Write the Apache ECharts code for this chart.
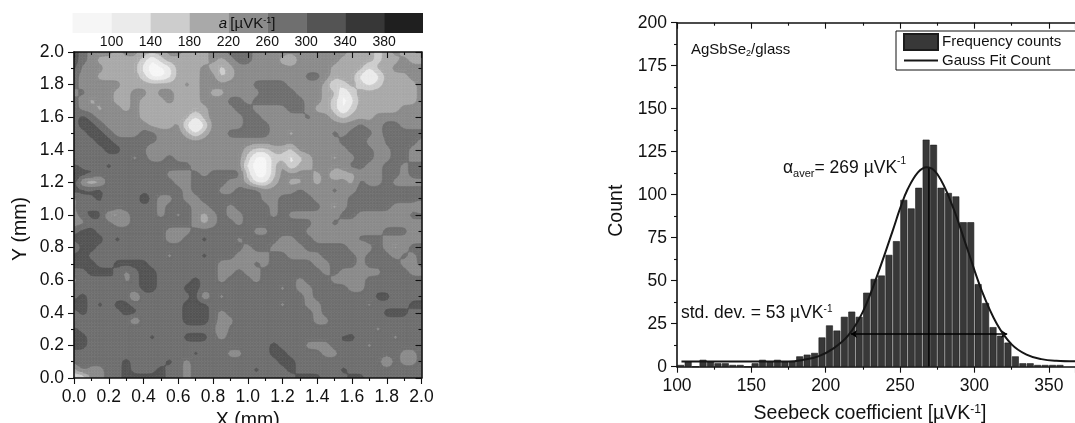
<!DOCTYPE html>
<html>
<head>
<meta charset="utf-8">
<style>html,body{margin:0;padding:0;background:#fff}#c{width:1075px;height:423px}</style>
<script src="https://cdn.jsdelivr.net/npm/echarts@6/dist/echarts.min.js"></script>
</head>
<body>
<div id="c"></div>
<script>
// Seebeck map: one digit per node, top row first; digit d is the colour band (80 + 40*d uV/K)
var seebeckRows = [
"654443443334433344555 44444444444333234333",
"654333332023333343455 44432444443333233433",
"644433331001333432344 44444444433331334444",
"544333332001333442344 44444455433310133344",
"544444333333343444444 55554444312321233334",
"454443344344333433444 45555444330233333334",
"543443343334333444554 55555544320133333334",
"544344343333333344455 44445543320233333444",
"565444443333331344445 54444454432333444444",
"566544444333410144445 55444444444454455444",
"556654445544431344555 55443444454555455555",
"555665555544444444444 44444444445554355554",
"555566555344444444443 22332444444555445544",
"455555545445444444442 00221234434455445544",
"655565555555554444441 00241334544554455455",
"766555555554445455552 00244443423344455455",
"632355555555445555443 11343343444354454444",
"666655555555545554455 54444544454455555555",
"455646547544544555555 54455554444555555555",
"465565555545554455455 55455555434555554443",
"456633455545454345445 55454444445544444455",
"445554455555554345545 55555554454444444444",
"566555555554445555555 44555544444444455544",
"666656555554455655545 55544554444455544444",
"466555555555555555554 55444455555434543455",
"665555555554555655544 44554444555545554545",
"666556666555555554444 54555554455545555445",
"556665456655555554454 45555555454444455544",
"455556456655556554555 45555455544445555555",
"555555556655566555555 55545445555445555555",
"565555535555556354555 55555545555555665555",
"665656655555566655555 55545544555554555566",
"565555665555566654555 55555554555555566655",
"455555535555566654455 55555554455555555555",
"655555565555555553555 55555555554555455555",
"665555555655566654555 55555555556655554555",
"665555555555555555555 55655544455554555555",
"555555555555556555445 55665555445555555445",
"555555655556545555555 55566555555555535445",
"354455655565545555555 65556555556555555555",
"114455666665545555555 55555666555665555555"
];
var mapXMax = 2.0, mapYMax = 2.0, mapTicks = 0.2;

// colour bar
var bandLow  = [60,100,140,180,220,260,300,340,380];
var bandHigh = [100,140,180,220,260,300,340,380,420];
var bandColors = ['#f6f6f6','#ebebeb','#cdcdcd','#a9a9a9','#8b8b8b','#6f6f6f','#545454','#373737','#1f1f1f'];
var bandTicks = [100,140,180,220,260,300,340,380];

// histogram
var binCenters = [102.5,107.5,112.5,117.5,122.5,127.5,132.5,137.5,142.5,147.5,152.5,157.5,162.5,167.5,172.5,177.5,182.5,187.5,192.5,197.5,202.5,207.5,212.5,217.5,222.5,227.5,232.5,237.5,242.5,247.5,252.5,257.5,262.5,267.5,272.5,277.5,282.5,287.5,292.5,297.5,302.5,307.5,312.5,317.5,322.5,327.5,332.5,337.5,342.5,347.5,352.5,357.5];
var binCounts  = [1,3,0,4,3,2,2,1,1,0,2,4,3,4,3,3,6,7,8,17,24,21,29,32,29,43,51,53,65,73,97,92,104,132,129,104,101,99,84,84,48,37,23,18,14,6,2,2,1,1,1,1];

// Gauss fit
var fitX = [103,130,160,175,185,195,205,215,225,235,245,250,255,262,268,275,285,295,305,315,325,335,345,355,368];
var fitY = [3,3,3,3,4,6,10.5,18,32,54,79,92,103,113,116,112,94,69,44,25,13,7,4.4,3.4,3.1];

// annotation lines
var meanX = 269, meanTop = 116;
var stdLeft = 217, stdRight = 322, stdLevel = 19;

var FONT = '"Liberation Sans", Arial, sans-serif';
var BLACK = '#111';

function valueOfDigit(ch){ return 80 + 40 * (+ch); }
var nodes = seebeckRows.map(function(r){ return r.replace(/ /g,'').split('').map(valueOfDigit); });

// Contour rounding of the iso-lines: a finer mesh over the read nodes, lightly softened.
var REFINE = 3, SOFTEN = 2;
function refineLine(a){
  var out=[],n=a.length;
  for(var i=0;i<n-1;i++) for(var s=0;s<REFINE;s++) out.push(a[i]+(a[i+1]-a[i])*s/REFINE);
  out.push(a[n-1]);
  return out;
}
function soften(a){
  return a.map(function(v,i){ return (a[Math.max(i-1,0)]+2*v+a[Math.min(i+1,a.length-1)])/4; });
}
function transpose(m){ return m[0].map(function(_,c){ return m.map(function(r){ return r[c]; }); }); }
var surface = transpose(transpose(nodes.map(refineLine)).map(refineLine));
for (var pass=0; pass<SOFTEN; pass++) surface = transpose(transpose(surface.map(soften)).map(soften));
var cells = [];
(function(){
  var nr=surface.length-1,nc=surface[0].length-1;
  for (var r=0;r<nr;r++) for (var c=0;c<nc;c++) {
    cells.push([c/nc*mapXMax, mapYMax-r/nr*mapYMax, (c+1)/nc*mapXMax, mapYMax-(r+1)/nr*mapYMax,
      surface[r][c], surface[r][c+1], surface[r+1][c+1], surface[r+1][c]]);
  }
})();
function clipAbove(pts, t){
  var out = [];
  for (var i = 0; i < pts.length; i++) {
    var a = pts[i], b = pts[(i+1)%pts.length];
    if (a[2] >= t) out.push([a[0],a[1]]);
    if ((a[2] >= t) !== (b[2] >= t)) {
      var f = (t - a[2]) / (b[2] - a[2]);
      out.push([a[0]+(b[0]-a[0])*f, a[1]+(b[1]-a[1])*f]);
    }
  }
  return out;
}
function renderCell(params, api){
  var x0=api.value(0), y0=api.value(1), x1=api.value(2), y1=api.value(3);
  var v=[api.value(4),api.value(5),api.value(6),api.value(7)];
  var p0=api.coord([x0,y0]), p1=api.coord([x1,y1]);
  var quad=[[p0[0],p0[1],v[0]],[p1[0],p0[1],v[1]],[p1[0],p1[1],v[2]],[p0[0],p1[1],v[3]]];
  var lo=Math.min.apply(null,v), hi=Math.max.apply(null,v);
  var children=[];
  var first=true;
  for (var k=0;k<bandLow.length;k++){
    var top=k===bandLow.length-1?Infinity:bandHigh[k], bot=k===0?-Infinity:bandLow[k];
    if (hi<bot || lo>=top) continue;
    var pts = first ? quad.map(function(q){return [q[0],q[1]];}) : clipAbove(quad,bot);
    first=false;
    if (pts.length<3) continue;
    children.push({type:'polygon',shape:{points:pts},style:{fill:bandColors[k],stroke:bandColors[k],lineWidth:0.6},silent:true});
  }
  return {type:'group',children:children};
}
function renderBand(params, api){
  var a=api.coord([api.value(0),1]), b=api.coord([api.value(1),0]);
  return {type:'rect',shape:{x:a[0],y:a[1],width:b[0]-a[0],height:b[1]-a[1]},style:{fill:bandColors[params.dataIndex]}};
}
function frameAxis(base){
  var o = {type:'value',z:10,axisLine:{show:true,onZero:false,lineStyle:{color:BLACK,width:1.6}},
    axisTick:{show:true,length:6,lineStyle:{color:BLACK,width:1.1}},
    minorTick:{show:true,splitNumber:2,length:3,lineStyle:{color:BLACK,width:1.1}},
    splitLine:{show:false},minorSplitLine:{show:false},
    axisLabel:{color:BLACK,fontSize:17.5,fontFamily:FONT,margin:10,formatter:base.fmt||null},
    nameTextStyle:{color:BLACK,fontSize:19.5,fontFamily:FONT}};
  delete base.fmt;
  for (var k in base) o[k]=base[k];
  return o;
}
function mirror(extra){
  var o=frameAxis(extra);
  o.axisLabel={show:false};
  o.axisTick.inside=true;
  return o;
}
var f1=function(v){return v.toFixed(1);};
var supRich={a:{fontSize:19.5,fontFamily:FONT,color:BLACK},s:{fontSize:12,fontFamily:FONT,color:BLACK,verticalAlign:'top',lineHeight:20}};

var option={
  animation:false,
  backgroundColor:'#fff',
  textStyle:{fontFamily:FONT},
  grid:[
    {left:74,top:52,width:347.5,height:326,outerBoundsMode:'none'},
    {left:677,top:22.7,width:398,height:344,outerBoundsMode:'none'},
    {left:72.6,top:13,width:350.4,height:20,outerBoundsMode:'none'}
  ],
  xAxis:[
    frameAxis({gridIndex:0,position:'bottom',min:0,max:mapXMax,interval:mapTicks,fmt:f1,name:'X (mm)',nameLocation:'middle',nameGap:30}),
    mirror({gridIndex:0,position:'top',min:0,max:mapXMax,interval:mapTicks}),
    frameAxis({gridIndex:1,position:'bottom',min:100,max:367.6,interval:50,name:'{a|Seebeck coefficient [µVK}{s|-1}{a|]}',nameLocation:'middle',nameGap:37,
      nameTextStyle:{color:BLACK,fontSize:19.5,fontFamily:FONT,padding:[0,12,0,0],rich:supRich}}),
    mirror({gridIndex:1,position:'top',min:100,max:367.6,interval:50}),
    {type:'value',gridIndex:2,min:60,max:420,axisLine:{show:false},axisTick:{show:false},splitLine:{show:false},
      axisLabel:{customValues:bandTicks,color:BLACK,fontSize:14,fontFamily:FONT,margin:2,hideOverlap:false}}
  ],
  yAxis:[
    frameAxis({gridIndex:0,position:'left',min:0,max:mapYMax,interval:mapTicks,fmt:f1,name:'Y (mm)',nameLocation:'middle',nameGap:43,
      nameTextStyle:{color:BLACK,fontSize:19.5,fontFamily:FONT,padding:[0,28,0,0]}}),
    mirror({gridIndex:0,position:'right',min:0,max:mapYMax,interval:mapTicks}),
    frameAxis({gridIndex:1,position:'left',min:0,max:200,interval:25,name:'Count',nameLocation:'middle',nameGap:50,
      nameTextStyle:{color:BLACK,fontSize:19.5,fontFamily:FONT,padding:[0,32,0,0]}}),
    {type:'value',gridIndex:2,min:0,max:1,show:false}
  ],
  legend:{
    data:[{name:'Frequency counts',icon:'rect'},{name:'Gauss Fit Count',itemStyle:{opacity:0}}],
    orient:'vertical',left:896,top:31,itemWidth:34,itemHeight:16,itemGap:2,
    padding:[2,22,2,7],backgroundColor:'#fff',borderColor:BLACK,borderWidth:1,borderRadius:0,
    textStyle:{color:BLACK,fontSize:15,fontFamily:FONT,padding:[0,0,0,-1]},z:20,selectedMode:false
  },
  series:[
    {type:'custom',name:'Seebeck map',xAxisIndex:0,yAxisIndex:0,coordinateSystem:'cartesian2d',renderItem:renderCell,data:cells,
      dimensions:['x0','y0','x1','y1','a','b','c','d'],encode:{x:[0,2],y:[1,3]},progressive:0,silent:true,clip:true,z:1},
    {type:'custom',name:'Colour scale',xAxisIndex:4,yAxisIndex:3,renderItem:renderBand,
      data:bandLow.map(function(l,i){return [l,bandHigh[i]];}),encode:{x:[0,1]},silent:true},
    {type:'bar',name:'Frequency counts',xAxisIndex:2,yAxisIndex:2,barWidth:6.9,
      data:binCenters.map(function(x,i){return [x,binCounts[i]];}),
      itemStyle:{color:'#383838',borderColor:'#1c1c1c',borderWidth:0.6},silent:true,z:3},
    {type:'line',name:'Gauss Fit Count',xAxisIndex:2,yAxisIndex:2,smooth:0.4,showSymbol:false,symbol:'none',
      data:fitX.map(function(x,i){return [x,fitY[i]];}),
      lineStyle:{color:'#161616',width:2},itemStyle:{color:'#161616'},silent:true,z:5,clip:true,
      markLine:{silent:true,animation:false,symbol:['none','none'],label:{show:false},
        lineStyle:{color:'#000',width:1.6,type:'solid'},
        data:[
          [{coord:[stdLeft,stdLevel],symbol:'arrow',symbolSize:6},{coord:[stdRight,stdLevel],symbol:'arrow',symbolSize:6}],
          [{coord:[meanX,0],symbol:'none'},{coord:[meanX,meanTop],symbol:'none'}]
        ]}}
  ],
  graphic:[
    {type:'text',z:30,style:{x:247,y:24,text:'{i|a} {t|[µVK}{s|-1}{t|]}',align:'center',verticalAlign:'middle',
      rich:{i:{fontStyle:'italic',fontSize:15,fontFamily:FONT,fill:BLACK},t:{fontSize:15,fontFamily:FONT,fill:BLACK},s:{fontSize:9,fontFamily:FONT,fill:BLACK,verticalAlign:'top',lineHeight:15}}}},
    {type:'text',z:30,style:{x:691,y:50,text:'{t|AgSbSe}{b|2}{t|/glass}',align:'left',verticalAlign:'middle',
      rich:{t:{fontSize:15,fontFamily:FONT,fill:BLACK},b:{fontSize:9,fontFamily:FONT,fill:BLACK,verticalAlign:'bottom',lineHeight:17}}}},
    {type:'text',z:30,style:{x:783,y:168,text:'{t|α}{b|aver}{t|= 269 µVK}{s|-1}',align:'left',verticalAlign:'middle',
      rich:{t:{fontSize:17.5,fontFamily:FONT,fill:BLACK},b:{fontSize:11,fontFamily:FONT,fill:BLACK,verticalAlign:'bottom',lineHeight:23},s:{fontSize:10,fontFamily:FONT,fill:BLACK,verticalAlign:'top',lineHeight:17}}}},
    {type:'text',z:30,style:{x:681,y:313,text:'{t|std. dev. = 53 µVK}{s|-1}',align:'left',verticalAlign:'middle',
      rich:{t:{fontSize:17.5,fontFamily:FONT,fill:BLACK},s:{fontSize:10,fontFamily:FONT,fill:BLACK,verticalAlign:'top',lineHeight:17}}}}
  ]
};
var chart=echarts.init(document.getElementById('c'),null,{renderer:'canvas'});
chart.setOption(option);
</script>
</body>
</html>
